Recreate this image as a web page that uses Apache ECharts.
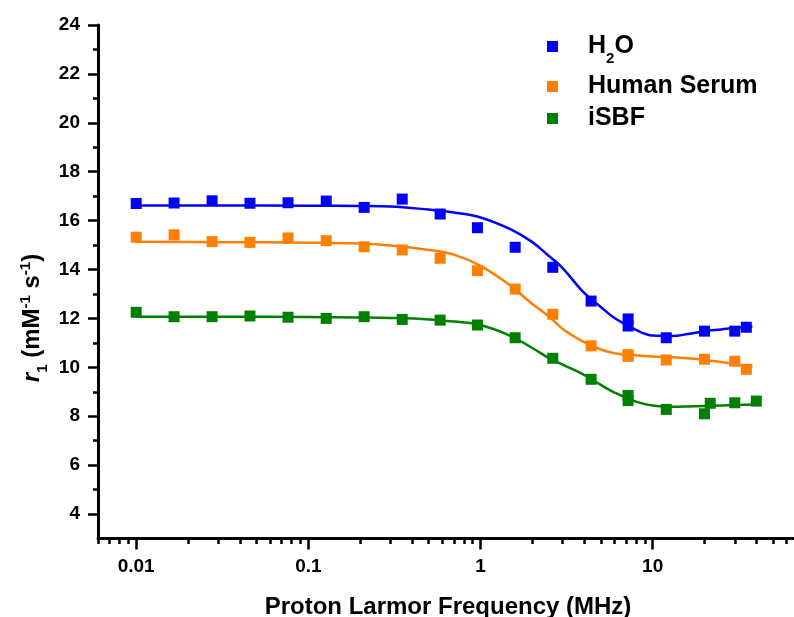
<!DOCTYPE html>
<html>
<head>
<meta charset="utf-8">
<script src="https://cdn.jsdelivr.net/npm/echarts@6/dist/echarts.min.js"></script>
<style>html,body{margin:0;padding:0;background:#fff}#c{width:794px;height:617px}</style>
</head>
<body>
<div id="c"></div>
<script>
// measured points (MHz, r1)
var freqH2O = [0.01, 0.0166, 0.0276, 0.0458, 0.0762, 0.127, 0.211, 0.351, 0.583, 0.96, 1.59, 2.63, 4.39, 7.2, 7.2, 12, 20, 30, 35];
var valH2O  = [16.70, 16.72, 16.81, 16.71, 16.73, 16.80, 16.54, 16.88, 16.27, 15.71, 14.91, 14.09, 12.71, 11.98, 11.69, 11.21, 11.48, 11.48, 11.64];
var freqSerum = [0.01, 0.0166, 0.0276, 0.0458, 0.0762, 0.127, 0.211, 0.351, 0.583, 0.96, 1.59, 2.63, 4.39, 7.2, 7.2, 12, 20, 30, 35];
var valSerum  = [15.32, 15.42, 15.14, 15.11, 15.29, 15.18, 14.93, 14.80, 14.46, 13.95, 13.20, 12.17, 10.88, 10.52, 10.45, 10.30, 10.33, 10.25, 9.92];
var freqSBF = [0.01, 0.0166, 0.0276, 0.0458, 0.0762, 0.127, 0.211, 0.351, 0.583, 0.96, 1.59, 2.63, 4.39, 7.2, 7.2, 12, 20, 21.6, 30, 40];
var valSBF  = [12.25, 12.07, 12.07, 12.10, 12.05, 12.00, 12.07, 11.96, 11.93, 11.73, 11.21, 10.37, 9.51, 8.85, 8.64, 8.28, 8.10, 8.53, 8.55, 8.62];

// fitted curves
var fitFreq = [0.01, 0.03, 0.1, 0.2, 0.3, 0.5, 0.7, 1, 1.5, 2, 2.5, 3, 4, 5, 6, 8, 10, 13, 16, 20, 25, 30, 38];
var fitFreqSBF = [0.01, 0.03, 0.1, 0.2, 0.3, 0.5, 0.7, 1, 1.5, 2, 2.5, 3, 4, 5, 6, 8, 10, 13, 16, 20, 25, 30, 42];
var fitH2O   = [16.62, 16.62, 16.61, 16.60, 16.58, 16.45, 16.33, 16.13, 15.64, 15.12, 14.55, 14.06, 13.04, 12.47, 12.02, 11.53, 11.30, 11.28, 11.36, 11.48, 11.55, 11.61, 11.67];
var fitSerum = [15.14, 15.12, 15.10, 15.06, 14.98, 14.80, 14.61, 14.15, 13.33, 12.59, 12.08, 11.57, 11.03, 10.73, 10.58, 10.49, 10.44, 10.41, 10.37, 10.30, 10.22, 10.13, 10.03];
var fitSBF   = [12.07, 12.07, 12.06, 12.04, 12.02, 11.96, 11.87, 11.73, 11.28, 10.79, 10.38, 10.11, 9.69, 9.28, 8.97, 8.60, 8.44, 8.39, 8.40, 8.42, 8.44, 8.46, 8.48];

// axis ticks
var xMajorTicks = [0.01, 0.1, 1, 10, 100];
var xMinorTicks = [0.006, 0.007, 0.008, 0.009, 0.02, 0.03, 0.04, 0.05, 0.06, 0.07, 0.08, 0.09,
  0.2, 0.3, 0.4, 0.5, 0.6, 0.7, 0.8, 0.9, 2, 3, 4, 5, 6, 7, 8, 9, 20, 30, 40, 50, 60, 70, 80, 90];
var yMajorTicks = [4, 6, 8, 10, 12, 14, 16, 18, 20, 22, 24];
var yMinorTicks = [5, 7, 9, 11, 13, 15, 17, 19, 21, 23];

var names = ['H2O', 'Human Serum', 'iSBF'];
var colors = ['#0000FF', '#FF8000', '#008000'];

function pairs(f, v) { return f.map(function (x, i) { return [x, v[i]]; }); }

var FONT = '"Liberation Sans", Arial, sans-serif';
var chart = echarts.init(document.getElementById('c'), null, { renderer: 'canvas' });

var axisLine = { show: true, lineStyle: { color: '#000', width: 3 } };
var legendRich = {
  sp: { width: 25 },
  b: { fontSize: 25, fontWeight: 'bold', fontFamily: FONT, color: '#000', lineHeight: 28 },
  sub: { fontSize: 15, fontWeight: 'bold', fontFamily: FONT, color: '#000', verticalAlign: 'bottom', lineHeight: 15, padding: [0, 0, -6, 0] }
};
function mkLegend(name, top) {
  return {
    data: [name], left: 547, top: top, padding: 0, itemWidth: 11, itemHeight: 11, icon: 'rect',
    formatter: function (n) { return n === 'H2O' ? '{sp|}{b|H}{sub|2}{b|O}' : '{sp|}{b|' + n + '}'; },
    textStyle: { rich: legendRich }
  };
}

chart.setOption({
  animation: false,
  backgroundColor: '#fff',
  grid: { left: 98, top: 25, bottom: 78.5, right: -30.8, containLabel: false, outerBoundsMode: 'none' },
  title: {
    text: 'Proton Larmor Frequency (MHz)', left: 448, top: 595, textAlign: 'center', padding: 0,
    textStyle: { fontSize: 24, fontWeight: 'bold', fontFamily: FONT, color: '#000' }
  },
  legend: [mkLegend('H2O', 34), mkLegend('Human Serum', 74), mkLegend('iSBF', 106)],
  graphic: [{
    type: 'text', x: 32, y: 318, rotation: Math.PI / 2,
    style: {
      text: '{i|r}{sub|1}{n| (mM}{sup|-1}{n| s}{sup|-1}{n|)}',
      align: 'center', verticalAlign: 'middle',
      rich: {
        i: { fontSize: 24, fontWeight: 'bold', fontStyle: 'italic', fontFamily: FONT, fill: '#000', lineHeight: 28 },
        n: { fontSize: 24, fontWeight: 'bold', fontFamily: FONT, fill: '#000', lineHeight: 28 },
        sub: { fontSize: 15, fontWeight: 'bold', fontFamily: FONT, fill: '#000', verticalAlign: 'bottom', lineHeight: 15, padding: [0, 0, -4, 0] },
        sup: { fontSize: 15, fontWeight: 'bold', fontFamily: FONT, fill: '#000', verticalAlign: 'top', lineHeight: 15 }
      }
    }
  }],
  xAxis: [{
    type: 'log', logBase: 10, min: 0.006, max: 100, position: 'bottom',
    axisLine: axisLine, splitLine: { show: false },
    axisTick: { show: true, length: 11, lineStyle: { color: '#000', width: 2.5 }, customValues: xMajorTicks },
    axisLabel: {
      customValues: xMajorTicks, margin: 19, color: '#000', fontSize: 19, fontWeight: 'bold', fontFamily: FONT,
      formatter: function (v) { return String(+v.toPrecision(6)); }
    }
  }, {
    type: 'log', logBase: 10, min: 0.006, max: 100, position: 'bottom', gridIndex: 0,
    axisLine: { show: false }, splitLine: { show: false }, axisLabel: { show: false },
    axisTick: { show: true, length: 5.5, lineStyle: { color: '#000', width: 2.5 }, customValues: xMinorTicks }
  }],
  yAxis: [{
    type: 'value', min: 3, max: 24, position: 'left',
    axisLine: axisLine, splitLine: { show: false },
    axisTick: { show: true, length: 10, lineStyle: { color: '#000', width: 2.5 }, customValues: yMajorTicks },
    axisLabel: { customValues: yMajorTicks, margin: 18, color: '#000', fontSize: 19, fontWeight: 'bold', fontFamily: FONT }
  }, {
    type: 'value', min: 3, max: 24, position: 'left', gridIndex: 0,
    axisLine: { show: false }, splitLine: { show: false }, axisLabel: { show: false },
    axisTick: { show: true, length: 5, lineStyle: { color: '#000', width: 2.5 }, customValues: yMinorTicks }
  }],
  series: [
    { name: 'H2O fit', type: 'line', data: pairs(fitFreq, fitH2O), smooth: 0.4, showSymbol: false, lineStyle: { color: colors[0], width: 2.5 }, itemStyle: { color: colors[0] }, z: 2 },
    { name: 'Human Serum fit', type: 'line', data: pairs(fitFreq, fitSerum), smooth: 0.4, showSymbol: false, lineStyle: { color: colors[1], width: 2.5 }, itemStyle: { color: colors[1] }, z: 2 },
    { name: 'iSBF fit', type: 'line', data: pairs(fitFreqSBF, fitSBF), smooth: 0.4, showSymbol: false, lineStyle: { color: colors[2], width: 2.5 }, itemStyle: { color: colors[2] }, z: 2 },
    { name: names[0], type: 'scatter', data: pairs(freqH2O, valH2O), symbol: 'rect', symbolSize: 11, itemStyle: { color: colors[0], opacity: 1 }, z: 3 },
    { name: names[1], type: 'scatter', data: pairs(freqSerum, valSerum), symbol: 'rect', symbolSize: 11, itemStyle: { color: colors[1], opacity: 1 }, z: 3 },
    { name: names[2], type: 'scatter', data: pairs(freqSBF, valSBF), symbol: 'rect', symbolSize: 11, itemStyle: { color: colors[2], opacity: 1 }, z: 3 }
  ]
});
</script>
</body>
</html>
